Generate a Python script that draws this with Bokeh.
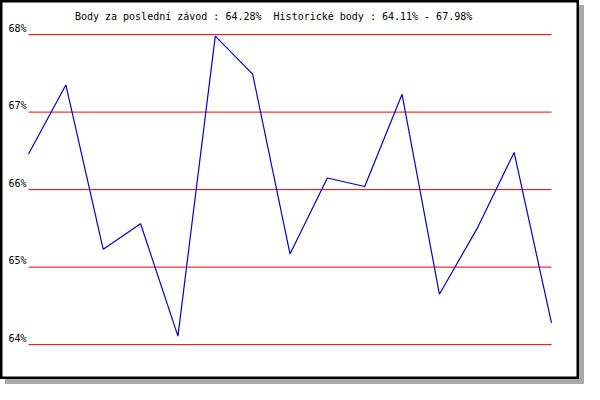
from bokeh.plotting import figure
from bokeh.models import Label, Range1d, ColumnDataSource
from bokeh.embed import file_html
from bokeh.resources import INLINE
from bokeh.core.properties import value

# ---- data ----
races = list(range(15))
points = [66.46, 67.35, 65.23, 65.56, 64.11, 67.98, 67.49, 65.17,
          66.15, 66.04, 67.23, 64.65, 65.49, 66.48, 64.28]
ticks = [64, 65, 66, 67, 68]
tick_labels = ["64%", "65%", "66%", "67%", "68%"]
title_text = "Body za poslední závod : 64.28%\u00a0 Historické body : 64.11% - 67.98%"

FONT = "DejaVu Sans Mono"

p = figure(width=579, height=379, output_backend="svg", toolbar_location=None,
           x_range=Range1d(-0.75, 14.75), y_range=Range1d(63.55, 68.44),
           min_border=0, x_axis_type=None, y_axis_type=None)
p.xgrid.visible = False
p.ygrid.visible = False
p.background_fill_color = "white"
p.border_fill_color = "white"
p.outline_line_color = "black"
p.outline_line_width = 4
p.outline_line_alpha = 1.0
p.styles = {"box-shadow": "5px 5px 0px #a9a9a9"}

# horizontal reference lines
gsrc = ColumnDataSource(dict(x0=[races[0]] * len(ticks), x1=[races[-1]] * len(ticks),
                             y=ticks, lab=tick_labels))
p.segment(x0="x0", y0="y", x1="x1", y1="y", source=gsrc, line_color="#ee0000", line_width=1)
p.text(x="x0", y="y", text="lab", source=gsrc, text_font=value(FONT),
       text_font_size="10px", text_align="right", text_baseline="bottom",
       x_offset=-2, y_offset=-1, text_color="black")

# series
p.line(races, points, line_color="#0000cc", line_width=1.2)

p.add_layout(Label(x=6.56, y=68.23, text=title_text, text_font=FONT,
                   text_font_size="10px", text_align="center",
                   text_baseline="alphabetic", text_color="black"))

open("out.html", "w").write(file_html(p, INLINE))
